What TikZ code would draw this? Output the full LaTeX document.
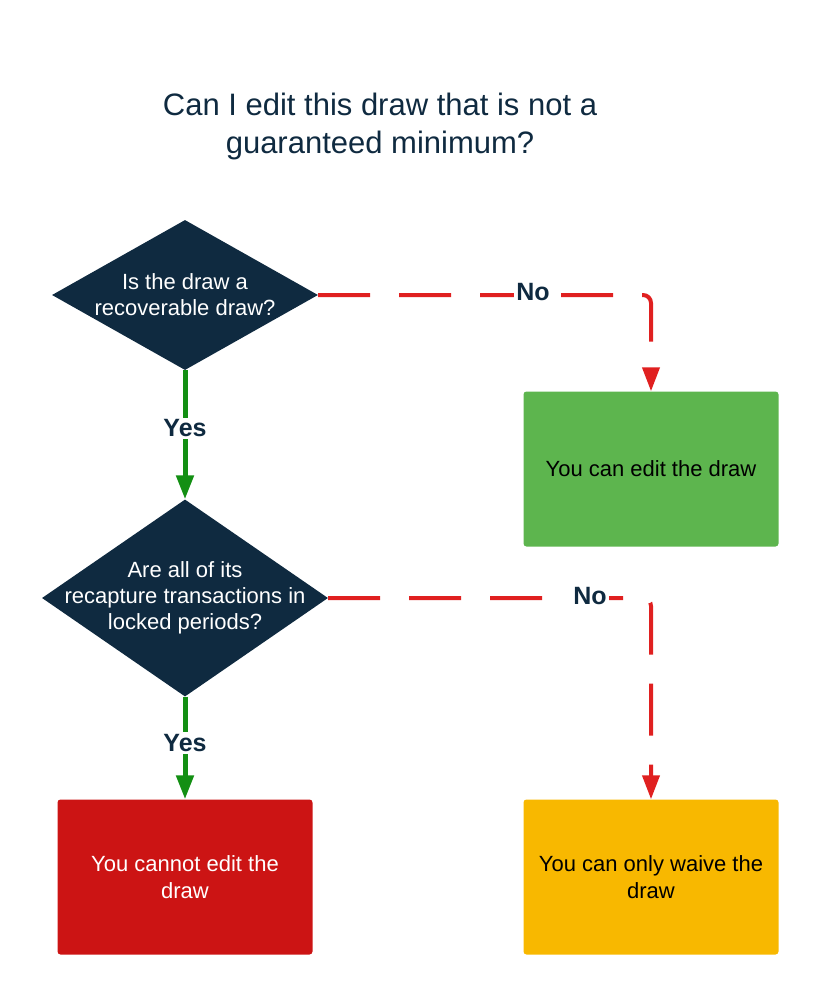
\documentclass[tikz,border=0pt]{standalone}
\usepackage{fontspec}
\setmainfont{Liberation Sans}
\usetikzlibrary{arrows.meta,shapes.geometric}
\definecolor{navy}{HTML}{0F2A40}
\definecolor{boxgreen}{HTML}{5DB54E}
\definecolor{boxred}{HTML}{CC1414}
\definecolor{boxyellow}{HTML}{F8B800}
\definecolor{yesgreen}{HTML}{138F13}
\definecolor{nored}{HTML}{E02020}
\begin{document}
\begin{tikzpicture}[x=1pt,y=-1pt]
	\tikzstyle{question} = [diamond, fill=navy, inner sep=0pt];
	\tikzstyle{qtext} = [text=white, align=center, font={\fontsize{22}{26}\selectfont}];
	\tikzstyle{answer} = [rectangle, rounded corners=3pt, minimum width=255pt, minimum height=155pt, align=center, font={\fontsize{22}{27}\selectfont}];
	\tikzstyle{label} = [fill=white, inner sep=2pt, text=navy, font={\fontsize{25}{28}\selectfont\bfseries}];
	\tikzstyle{yes} = [-{Triangle[length=24pt,width=17pt]}, line width=5pt, yesgreen];
	\tikzstyle{no} = [-{Triangle[length=24pt,width=17pt]}, line width=4pt, nored, dash pattern=on 52pt off 29pt, rounded corners=8pt];

	\useasboundingbox (0,0) rectangle (820,996);

	\node[text=navy, align=center, font={\fontsize{31}{38}\selectfont}] (title) at (380,126) {Can I edit this draw that is not a\\guaranteed minimum?};

	\node[question, minimum width=266pt, minimum height=150pt] (q1) at (185,295) {};
	\node[qtext] (q1text) at (q1) {Is the draw a\\recoverable draw?};
	\node[question, minimum width=286pt, minimum height=197pt] (q2) at (185,598) {};
	\node[qtext] (q2text) at (q2) {Are all of its\\recapture transactions in\\locked periods?};

	\node[answer, fill=boxgreen] (edit) at (651,469) {You can edit the draw};
	\node[answer, fill=boxred, text=white] (cannot) at (185,877) {You cannot edit the\\draw};
	\node[answer, fill=boxyellow] (waive) at (651,877) {You can only waive the\\draw};

	\draw[yes] (q1.south) -- node[label, pos=0.45] {Yes} (q2.north);
	\draw[yes] (q2.south) -- node[label, pos=0.45] {Yes} (cannot.north);
	\draw[no] (q1.east) -- (edit.north |- q1.east) -- (edit.north);
	\draw[no] (q2.east) -- (waive.north |- q2.east) -- (waive.north);
	\node[label] (no1) at (533,292) {No};
	\node[label] (no2) at (590,596) {No};
\end{tikzpicture}
\end{document}
